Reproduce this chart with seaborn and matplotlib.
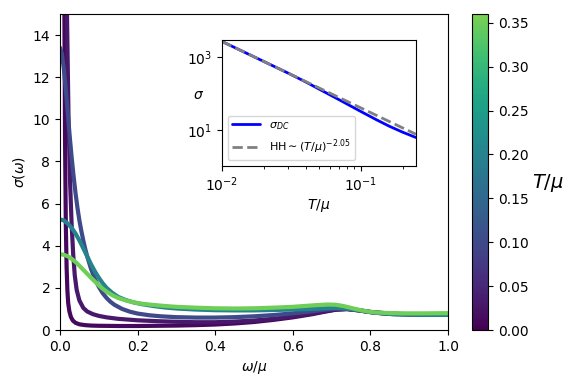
import numpy as np
import pandas as pd
import matplotlib
matplotlib.use("Agg")
import matplotlib.pyplot as plt
from matplotlib.colors import ListedColormap, Normalize
from matplotlib.cm import ScalarMappable
import seaborn as sns

# temperatures of the curves (T/mu)
temps = [0.01, 0.03, 0.1, 0.2, 0.35]

# sigma(omega), one curve per temperature
omega_t001 = [0.0, 0.006, 0.01, 0.013, 0.015, 0.017, 0.019, 0.021, 0.024, 0.028, 0.033, 0.04, 0.05,
              0.065, 0.08, 0.1, 0.15, 0.2, 0.25, 0.3, 0.35, 0.4, 0.45, 0.5, 0.55, 0.6, 0.65, 0.68,
              0.71, 0.74, 0.77, 0.8, 0.85, 0.9, 0.95, 1.0]
sigma_t001 = [300, 60, 20, 9, 5, 3, 1.9, 1.3, 0.9, 0.62, 0.45, 0.34, 0.27,
              0.23, 0.21, 0.2, 0.19, 0.19, 0.2, 0.21, 0.23, 0.26, 0.31, 0.38, 0.48, 0.6, 0.75, 0.86,
              0.96, 0.99, 0.93, 0.85, 0.77, 0.74, 0.73, 0.73]

omega_t003 = [0.0, 0.008, 0.013, 0.018, 0.022, 0.026, 0.03, 0.034, 0.038, 0.043, 0.05, 0.06, 0.07,
              0.085, 0.1, 0.12, 0.15, 0.2, 0.25, 0.3, 0.35, 0.4, 0.45, 0.5, 0.55, 0.6, 0.65, 0.68,
              0.71, 0.74, 0.77, 0.8, 0.85, 0.9, 0.95, 1.0]
sigma_t003 = [150, 60, 28, 15, 10, 7, 5, 3.6, 2.6, 1.9, 1.4, 1.05, 0.88,
              0.75, 0.67, 0.6, 0.53, 0.46, 0.42, 0.39, 0.37, 0.37, 0.4, 0.45, 0.53, 0.64, 0.78, 0.88,
              0.97, 1.0, 0.94, 0.86, 0.78, 0.75, 0.74, 0.74]

omega_t010 = [0.0, 0.005, 0.01, 0.015, 0.02, 0.025, 0.03, 0.035, 0.04, 0.045, 0.05, 0.055, 0.06,
              0.065, 0.07, 0.08, 0.09, 0.1, 0.11, 0.12, 0.13, 0.14, 0.16, 0.18, 0.2, 0.23, 0.26,
              0.3, 0.35, 0.4, 0.45, 0.5, 0.55, 0.6, 0.65, 0.68, 0.71, 0.74, 0.77, 0.8, 0.83,
              0.86, 0.9, 0.95, 1.0]
sigma_t010 = [13.4, 13.1, 12.4, 11.4, 10.3, 9.2, 8.2, 7.3, 6.5, 5.8, 5.2, 4.7, 4.25,
              3.85, 3.5, 2.9, 2.42, 2.05, 1.75, 1.52, 1.34, 1.2, 1.0, 0.87, 0.78, 0.7, 0.65,
              0.61, 0.59, 0.59, 0.61, 0.65, 0.71, 0.79, 0.89, 0.96, 1.01, 1.0, 0.93, 0.85, 0.79,
              0.75, 0.74, 0.73, 0.73]

omega_t020 = [0.0, 0.01, 0.02, 0.03, 0.04, 0.05, 0.06, 0.07, 0.08, 0.09, 0.1, 0.11, 0.12, 0.135,
              0.15, 0.17, 0.19, 0.21, 0.24, 0.27, 0.3, 0.35, 0.4, 0.45, 0.5, 0.55, 0.6, 0.65,
              0.68, 0.71, 0.74, 0.77, 0.8, 0.83, 0.86, 0.9, 0.95, 1.0]
sigma_t020 = [5.25, 5.2, 5.05, 4.85, 4.58, 4.25, 3.88, 3.5, 3.12, 2.78, 2.48, 2.22, 2.0, 1.76,
              1.57, 1.42, 1.31, 1.23, 1.14, 1.07, 1.02, 0.97, 0.94, 0.93, 0.93, 0.95, 0.97, 1.0,
              1.03, 1.05, 1.02, 0.94, 0.85, 0.79, 0.75, 0.73, 0.72, 0.72]

omega_t035 = [0.0, 0.01, 0.02, 0.03, 0.04, 0.05, 0.06, 0.07, 0.08, 0.09, 0.1, 0.11, 0.12, 0.135,
              0.15, 0.17, 0.19, 0.21, 0.24, 0.27, 0.3, 0.35, 0.4, 0.45, 0.5, 0.55, 0.6, 0.63,
              0.66, 0.69, 0.71, 0.73, 0.75, 0.77, 0.79, 0.81, 0.84, 0.88, 0.94, 1.0]
sigma_t035 = [3.6, 3.57, 3.5, 3.38, 3.23, 3.05, 2.86, 2.67, 2.48, 2.3, 2.12, 1.96, 1.82, 1.65,
              1.52, 1.4, 1.31, 1.25, 1.19, 1.14, 1.1, 1.06, 1.03, 1.02, 1.03, 1.06, 1.1, 1.14,
              1.18, 1.21, 1.2, 1.14, 1.05, 0.96, 0.89, 0.84, 0.81, 0.79, 0.79, 0.8]

# inset: DC conductivity vs temperature and the power-law fit
T_dc = [0.01, 0.015, 0.02, 0.03, 0.04, 0.05, 0.07, 0.1, 0.13, 0.16, 0.2, 0.25]
sigma_dc = [2730, 1300, 767, 365, 210, 133, 67, 32, 18.8, 12.6, 8.6, 6.1]
T_hh = [0.01, 0.25]
sigma_hh = [2730, 7.5]

omegas = [omega_t001, omega_t003, omega_t010, omega_t020, omega_t035]
sigmas = [sigma_t001, sigma_t003, sigma_t010, sigma_t020, sigma_t035]

rows = []
for T, om, sg in zip(temps, omegas, sigmas):
    for o, s in zip(om, sg):
        rows.append((T, o, s))
df = pd.DataFrame(rows, columns=["T", "omega", "sigma"])

sns.set_style("ticks", {"axes.edgecolor": "black", "text.color": "black",
                        "axes.labelcolor": "black", "xtick.color": "black",
                        "ytick.color": "black"})
plt.rcParams["mathtext.fontset"] = "dejavusans"
plt.rcParams["lines.solid_joinstyle"] = "round"

cmap = ListedColormap(plt.cm.viridis(np.linspace(0, 0.8, 256)))
norm = Normalize(vmin=0, vmax=0.36)

fig = plt.figure(figsize=(5.81, 3.88), dpi=100)
ax = fig.add_axes([60 / 581, 1 - 330 / 388, 388 / 581, 316 / 388])
sns.lineplot(data=df, x="omega", y="sigma", hue="T", palette=cmap, hue_norm=norm,
             linewidth=3, legend=False, ax=ax)
ax.set_xlim(0, 1)
ax.set_ylim(0, 15)
ax.set_xlabel(r"$\omega/\mu$", fontsize=10)
ax.set_ylabel(r"$\sigma(\omega)$", fontsize=10)
ax.tick_params(labelsize=10)

# colorbar
cax = fig.add_axes([472 / 581, 1 - 330 / 388, 16 / 581, 316 / 388])
cb = fig.colorbar(ScalarMappable(norm=norm, cmap=cmap), cax=cax)
cb.set_ticks([0, 0.05, 0.1, 0.15, 0.2, 0.25, 0.3, 0.35])
cb.ax.tick_params(labelsize=10)
cb.set_label(r"$T/\mu$", rotation=0, fontsize=14, labelpad=14)

# inset
axin = fig.add_axes([222 / 581, 1 - 166 / 388, 194 / 581, 126 / 388])
sns.lineplot(x=T_dc, y=sigma_dc, color="blue", linewidth=2, ax=axin,
             label=r"$\sigma_{DC}$")
sns.lineplot(x=T_hh, y=sigma_hh, color="gray", linewidth=2, linestyle="--", ax=axin,
             label=r"HH$\sim(T/\mu)^{-2.05}$")
axin.set_xscale("log")
axin.set_yscale("log")
axin.set_xlim(0.01, 0.25)
axin.set_ylim(1, 3000)
axin.set_yticks([10, 1000])
axin.yaxis.set_minor_locator(matplotlib.ticker.NullLocator())
axin.set_xlabel(r"$T/\mu$", fontsize=10, labelpad=2)
axin.set_ylabel(r"$\sigma$", fontsize=10, rotation=0, va="center")
axin.yaxis.set_label_coords(-0.12, 0.56)
axin.tick_params(labelsize=10)
axin.legend(loc="lower left", fontsize=8, handlelength=2.5)

fig.savefig("out.png", dpi=100)
